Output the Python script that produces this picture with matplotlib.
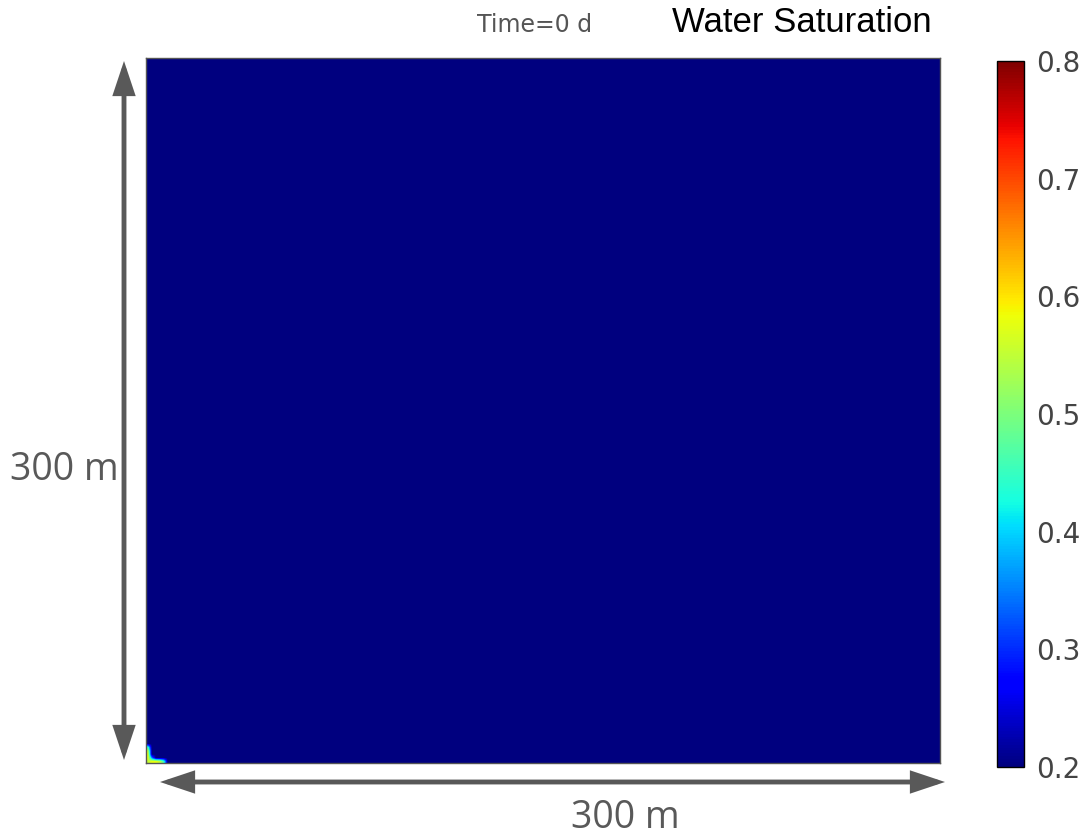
import numpy as np
import matplotlib
matplotlib.use('Agg')
import matplotlib.pyplot as plt
from matplotlib.patches import FancyArrowPatch

# saturation field at t = 0 d (200 x 200 cells over 300 m x 300 m)
n_cells = 200
domain_size = 300
sw_initial = 0.2
# injector corner cells: (row from bottom, col from left, Sw)
corner_cells = [(0, 0, 0.55), (0, 1, 0.58), (0, 2, 0.58), (0, 3, 0.55),
                (1, 0, 0.58), (2, 0, 0.58), (3, 0, 0.55), (4, 0, 0.45),
                (0, 4, 0.45), (1, 1, 0.35)]
cbar_ticks = [0.2, 0.3, 0.4, 0.5, 0.6, 0.7, 0.8]

field = np.full((n_cells, n_cells), sw_initial)
for r, c, v in corner_cells:
    field[r, c] = v

fig = plt.figure(figsize=(10.81, 8.35), dpi=100)
ax = fig.add_axes([0.135, 0.0862, 0.7345, 0.8443])
im = ax.imshow(field, origin='lower', cmap='jet', vmin=0.2, vmax=0.8,
               extent=[0, domain_size, 0, domain_size], aspect='auto',
               interpolation='bilinear')
ax.set_xticks([])
ax.set_yticks([])
for s in ax.spines.values():
    s.set_color('#555555')
    s.set_linewidth(1)

cax = fig.add_axes([0.9223, 0.0814, 0.025, 0.8455])
cb = fig.colorbar(im, cax=cax, ticks=cbar_ticks)
cb.ax.tick_params(length=0, labelsize=20, labelcolor='#444444', pad=9)
cb.outline.set_linewidth(1)
cb.outline.set_edgecolor('black')

gray = '#595959'
arrow_style = '<|-|>,head_length=18,head_width=6'


def fig_xy(px, py):
    return (px / 1081, 1 - py / 835)


# vertical dimension arrow
fig.add_artist(FancyArrowPatch(fig_xy(124, 760), fig_xy(124, 61),
                               transform=fig.transFigure, arrowstyle=arrow_style,
                               color=gray, lw=3.5, shrinkA=0, shrinkB=0,
                               joinstyle='miter', capstyle='butt'))
fig.text(10 / 1081, 1 - 470 / 835, '300 m', color=gray, fontsize=27,
         ha='left', va='center', family='Open Sans')

# horizontal dimension arrow
fig.add_artist(FancyArrowPatch(fig_xy(160, 782), fig_xy(945, 782),
                               transform=fig.transFigure, arrowstyle=arrow_style,
                               color=gray, lw=3.5, shrinkA=0, shrinkB=0,
                               joinstyle='miter', capstyle='butt'))
fig.text(625 / 1081, 1 - 818 / 835, '300 m', color=gray, fontsize=27,
         ha='center', va='center', family='Open Sans')

fig.text(535 / 1081, 1 - 25 / 835, 'Time=0 d', color='#555555', fontsize=17,
         ha='center', va='center')
fig.text(802 / 1081, 1 - 22 / 835, 'Water Saturation', color='black',
         fontsize=25, ha='center', va='center', family='Liberation Sans')

fig.savefig('out.png', dpi=100)
